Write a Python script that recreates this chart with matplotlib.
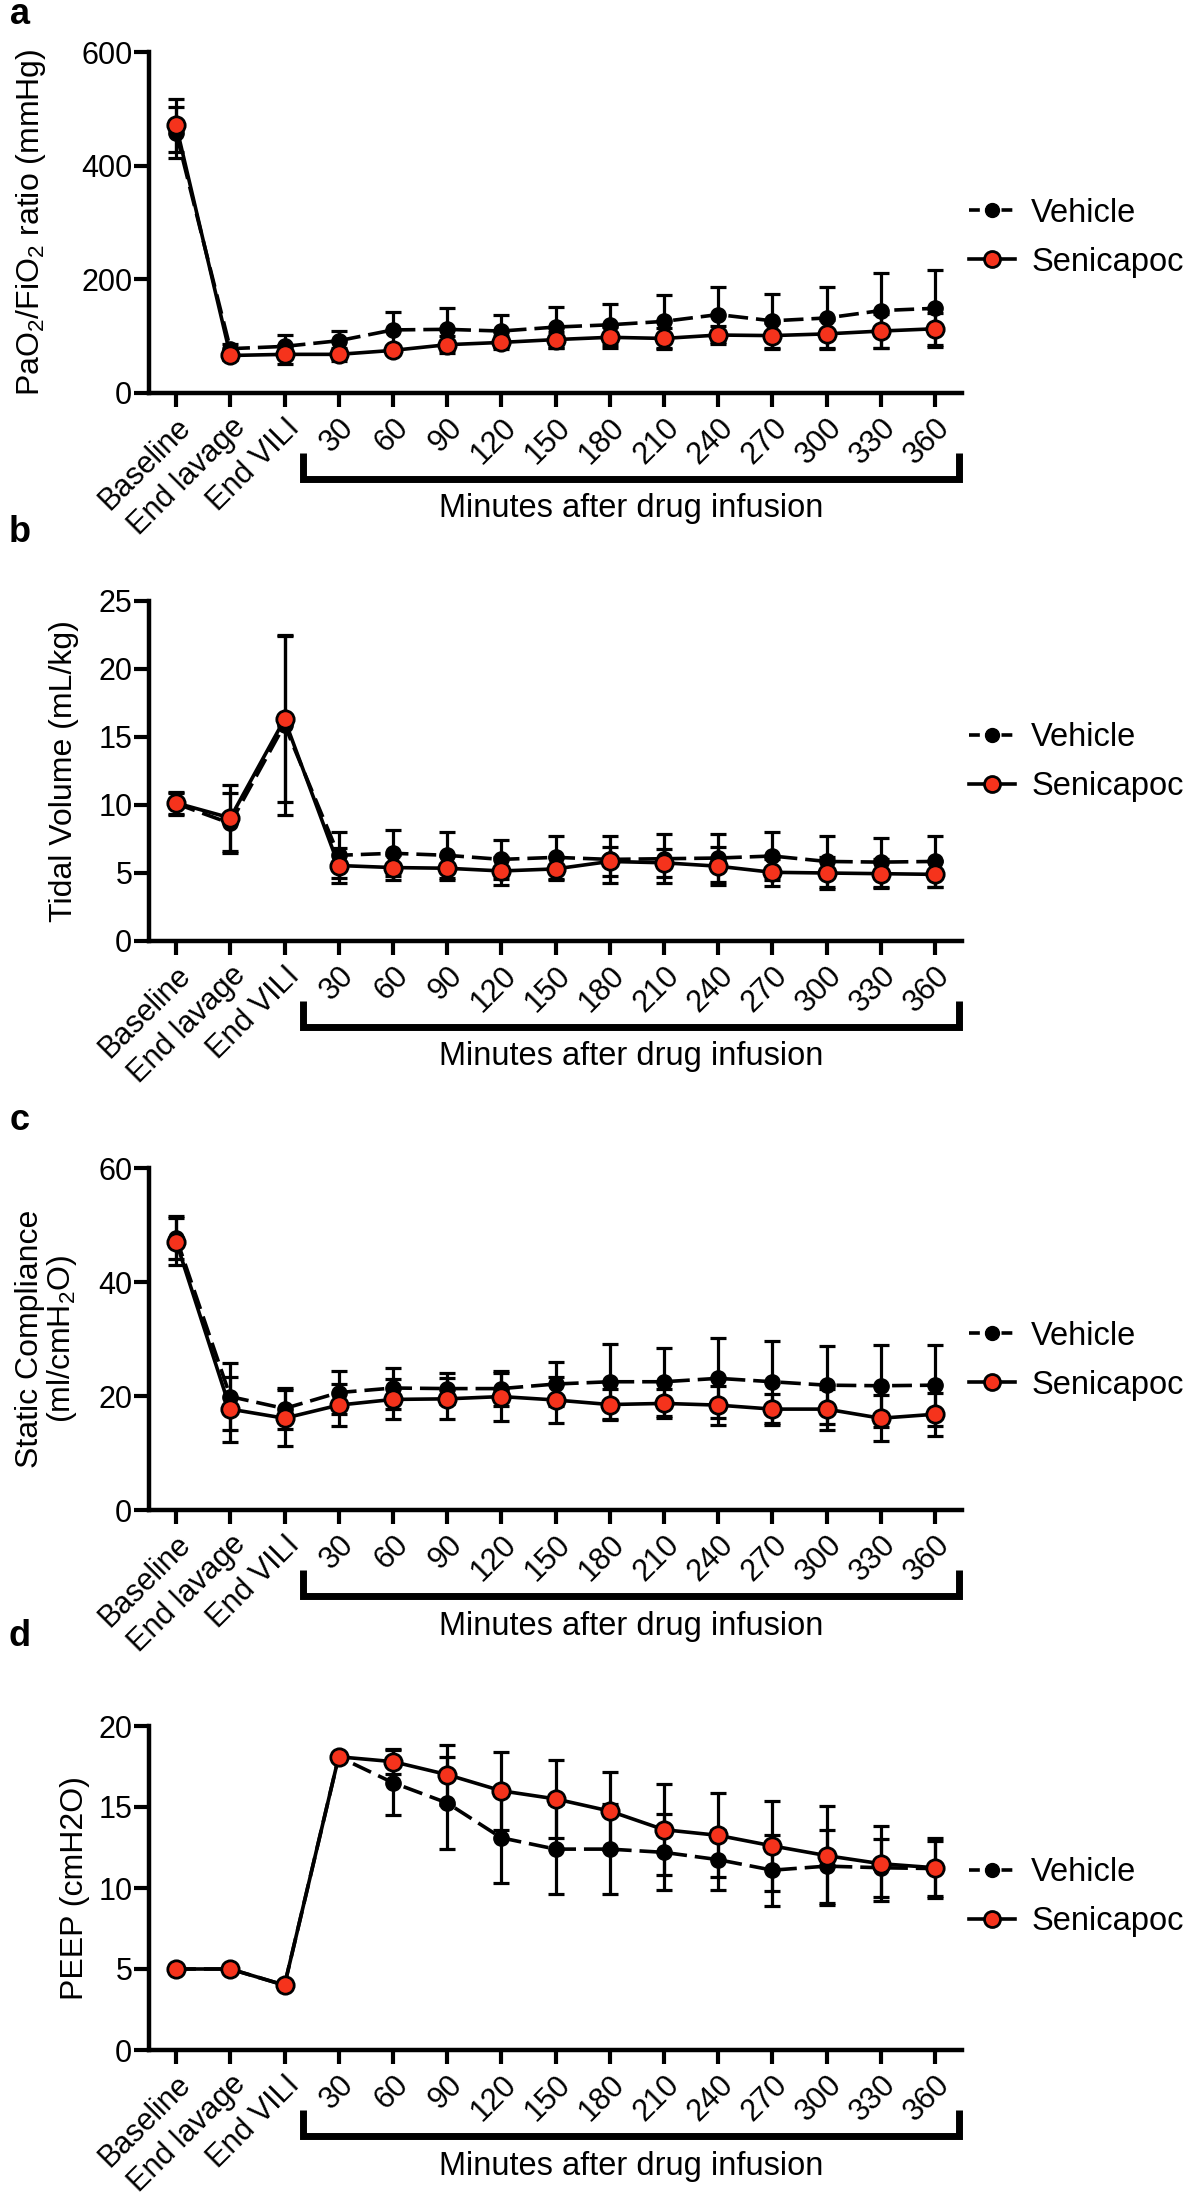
import matplotlib
matplotlib.use('Agg')
import matplotlib.pyplot as plt
import matplotlib.transforms as mtransforms
from matplotlib.lines import Line2D
import numpy as np

plt.rcParams['font.family'] = ['Liberation Sans', 'DejaVu Sans']
plt.rcParams['mathtext.fontset'] = 'custom'
plt.rcParams['mathtext.rm'] = 'Liberation Sans'
plt.rcParams['mathtext.it'] = 'Liberation Sans:italic'
plt.rcParams['mathtext.bf'] = 'Liberation Sans:bold'

# ---------------- data ----------------
categories = ['Baseline', 'End lavage', 'End VILI', '30', '60', '90', '120', '150',
              '180', '210', '240', '270', '300', '330', '360']

pf_vehicle = [458, 78, 82, 92, 111, 112, 109, 116, 120, 126, 138, 127, 132, 145, 149]
pf_vehicle_sd = [45, 8, 20, 17, 32, 37, 28, 36, 36, 46, 48, 47, 55, 66, 68]
pf_senicapoc = [471, 66, 68, 68, 75, 85, 89, 94, 98, 96, 102, 101, 104, 109, 113]
pf_senicapoc_sd = [47, 8, 17, 12, 6, 15, 12, 14, 19, 18, 16, 23, 25, 30, 28]

tv_vehicle = [10.1, 8.65, 15.9, 6.3, 6.45, 6.3, 6.0, 6.15, 6.0, 6.05, 6.1, 6.25, 5.85, 5.8, 5.85]
tv_vehicle_sd = [0.8, 2.2, 6.6, 1.7, 1.7, 1.7, 1.45, 1.6, 1.75, 1.8, 1.75, 1.75, 1.85, 1.8, 1.85]
tv_senicapoc = [10.15, 9.05, 16.3, 5.55, 5.4, 5.35, 5.15, 5.3, 5.85, 5.75, 5.5, 5.05, 5.0, 4.95, 4.9]
tv_senicapoc_sd = [0.8, 2.4, 6.1, 1.3, 0.95, 0.9, 1.05, 0.85, 1.05, 1.05, 1.4, 1.0, 1.15, 1.05, 0.95]

sc_vehicle = [47.8, 19.9, 17.8, 20.6, 21.4, 21.3, 21.3, 22.1, 22.5, 22.5, 23.1, 22.5, 21.9, 21.8, 21.9]
sc_vehicle_sd = [3.8, 5.9, 3.6, 3.7, 3.6, 2.7, 3.1, 3.9, 6.6, 6.0, 7.0, 7.2, 6.8, 7.2, 7.1]
sc_senicapoc = [47.1, 17.7, 16.1, 18.4, 19.4, 19.5, 19.9, 19.3, 18.5, 18.7, 18.4, 17.7, 17.7, 16.1, 16.8]
sc_senicapoc_sd = [4.1, 5.7, 4.9, 3.7, 3.5, 3.6, 4.2, 4.0, 2.7, 2.5, 3.4, 2.7, 3.6, 4.0, 3.8]

peep_vehicle = [5, 5, 4, 18.1, 16.5, 15.25, 13.1, 12.4, 12.4, 12.2, 11.75, 11.1, 11.35, 11.25, 11.2]
peep_vehicle_sd = [0, 0, 0, 0, 2.0, 2.85, 2.8, 2.8, 2.8, 2.35, 1.85, 2.2, 2.25, 1.8, 1.7]
peep_senicapoc = [5, 5, 4, 18.1, 17.8, 17.0, 16.0, 15.5, 14.75, 13.6, 13.25, 12.6, 12.0, 11.5, 11.25]
peep_senicapoc_sd = [0, 0, 0, 0, 0.75, 1.85, 2.4, 2.4, 2.4, 2.8, 2.6, 2.8, 3.05, 2.3, 1.85]

series_names = ['Vehicle', 'Senicapoc']
bracket_label = 'Minutes after drug infusion'

panels = [
    dict(letter='a', ylabel=r'PaO$_2$/FiO$_2$ ratio (mmHg)', yticks=[0, 200, 400, 600],
         v=pf_vehicle, vsd=pf_vehicle_sd, s=pf_senicapoc, ssd=pf_senicapoc_sd,
         top=52, bottom=393, leg=0.455, lety=15, lpad=24),
    dict(letter='b', ylabel='Tidal Volume (mL/kg)', yticks=[0, 5, 10, 15, 20, 25],
         v=tv_vehicle, vsd=tv_vehicle_sd, s=tv_senicapoc, ssd=tv_senicapoc_sd,
         top=601, bottom=941, leg=0.526, lety=532, lpad=14),
    dict(letter='c', ylabel='Static Compliance\n' + r'(ml/cmH$_2$O)', yticks=[0, 20, 40, 60],
         v=sc_vehicle, vsd=sc_vehicle_sd, s=sc_senicapoc, ssd=sc_senicapoc_sd,
         top=1168, bottom=1510, leg=0.436, lety=1121, lpad=14),
    dict(letter='d', ylabel='PEEP (cmH2O)', yticks=[0, 5, 10, 15, 20],
         v=peep_vehicle, vsd=peep_vehicle_sd, s=peep_senicapoc, ssd=peep_senicapoc_sd,
         top=1726, bottom=2050, leg=0.472, lety=1637, lpad=6),
]

# ---------------- layout ----------------
W, H = 1184, 2208
fig = plt.figure(figsize=(W / 100, H / 100), dpi=100)
RED = '#f5331c'
FS = 22
x = np.arange(len(categories))
left_px, right_px = 149, 962

for p in panels:
    rect = [left_px / W, 1 - p['bottom'] / H, (right_px - left_px) / W, (p['bottom'] - p['top']) / H]
    ax = fig.add_axes(rect)
    h_px = p['bottom'] - p['top']

    v = np.array(p['v'], float); vsd = np.array(p['vsd'], float)
    s = np.array(p['s'], float); ssd = np.array(p['ssd'], float)
    mv = vsd > 0
    ms = ssd > 0
    ax.errorbar(x[mv], v[mv], yerr=vsd[mv], fmt='none', ecolor='black', elinewidth=2.3,
                capsize=6, capthick=2.3, zorder=2, clip_on=False)
    ax.errorbar(x[ms], s[ms], yerr=ssd[ms], fmt='none', ecolor='black', elinewidth=2.3,
                capsize=6, capthick=2.3, zorder=2, clip_on=False)
    ax.plot(x, v, color='black', lw=2.6, linestyle=(0, (5.5, 2.2)), marker='o', ms=11,
            mfc='black', mec='black', zorder=3, clip_on=False)
    ax.plot(x, s, color='black', lw=2.6, linestyle='-', marker='o', ms=12.5,
            mfc=RED, mec='black', mew=2, zorder=4, clip_on=False)

    ax.set_xlim(-0.5, 14.5)
    ax.set_ylim(p['yticks'][0], p['yticks'][-1])
    ax.set_yticks(p['yticks'])
    ax.set_xticks(x)
    ax.set_xticklabels(categories, rotation=45, ha='right', va='top', rotation_mode='anchor')
    for sp in ['top', 'right']:
        ax.spines[sp].set_visible(False)
    for sp in ['left', 'bottom']:
        ax.spines[sp].set_linewidth(3.2)
    ax.tick_params(axis='y', direction='out', length=11, width=3, labelsize=FS, pad=1)
    ax.tick_params(axis='x', direction='out', length=10, width=3, labelsize=FS, pad=4)
    ax.set_ylabel(p['ylabel'], fontsize=FS + 1, labelpad=p['lpad'], linespacing=1.0)

    # bracket under post-infusion time points
    blend = mtransforms.blended_transform_factory(ax.transData, ax.transAxes)
    x0, x1 = 2.34, 14.44
    yb = -86 / h_px
    yt = -60 / h_px
    ax.plot([x0, x0, x1, x1], [yt, yb, yb, yt], transform=blend, color='black', lw=5,
            clip_on=False, solid_joinstyle='miter', solid_capstyle='butt')
    ax.text((x0 + x1) / 2, -116 / h_px, bracket_label, transform=blend, ha='center',
            va='center', fontsize=FS + 1.5)

    handles = [
        Line2D([], [], color='black', lw=2.6, linestyle=(0, (3, 1.5)), marker='o', ms=10,
               mfc='black', mec='black'),
        Line2D([], [], color='black', lw=2.6, linestyle='-', marker='o', ms=11.5,
               mfc=RED, mec='black', mew=2),
    ]
    ax.legend(handles, series_names, loc='center left', bbox_to_anchor=(1.009, p['leg']),
              frameon=False, fontsize=FS + 1.5, borderaxespad=0, borderpad=0,
              handlelength=1.4, handletextpad=0.5, labelspacing=0.55)

    fig.text(20 / W, 1 - p['lety'] / H, p['letter'], ha='center', va='center',
             fontsize=26, fontweight='bold')

fig.savefig('out.png', dpi=100)
